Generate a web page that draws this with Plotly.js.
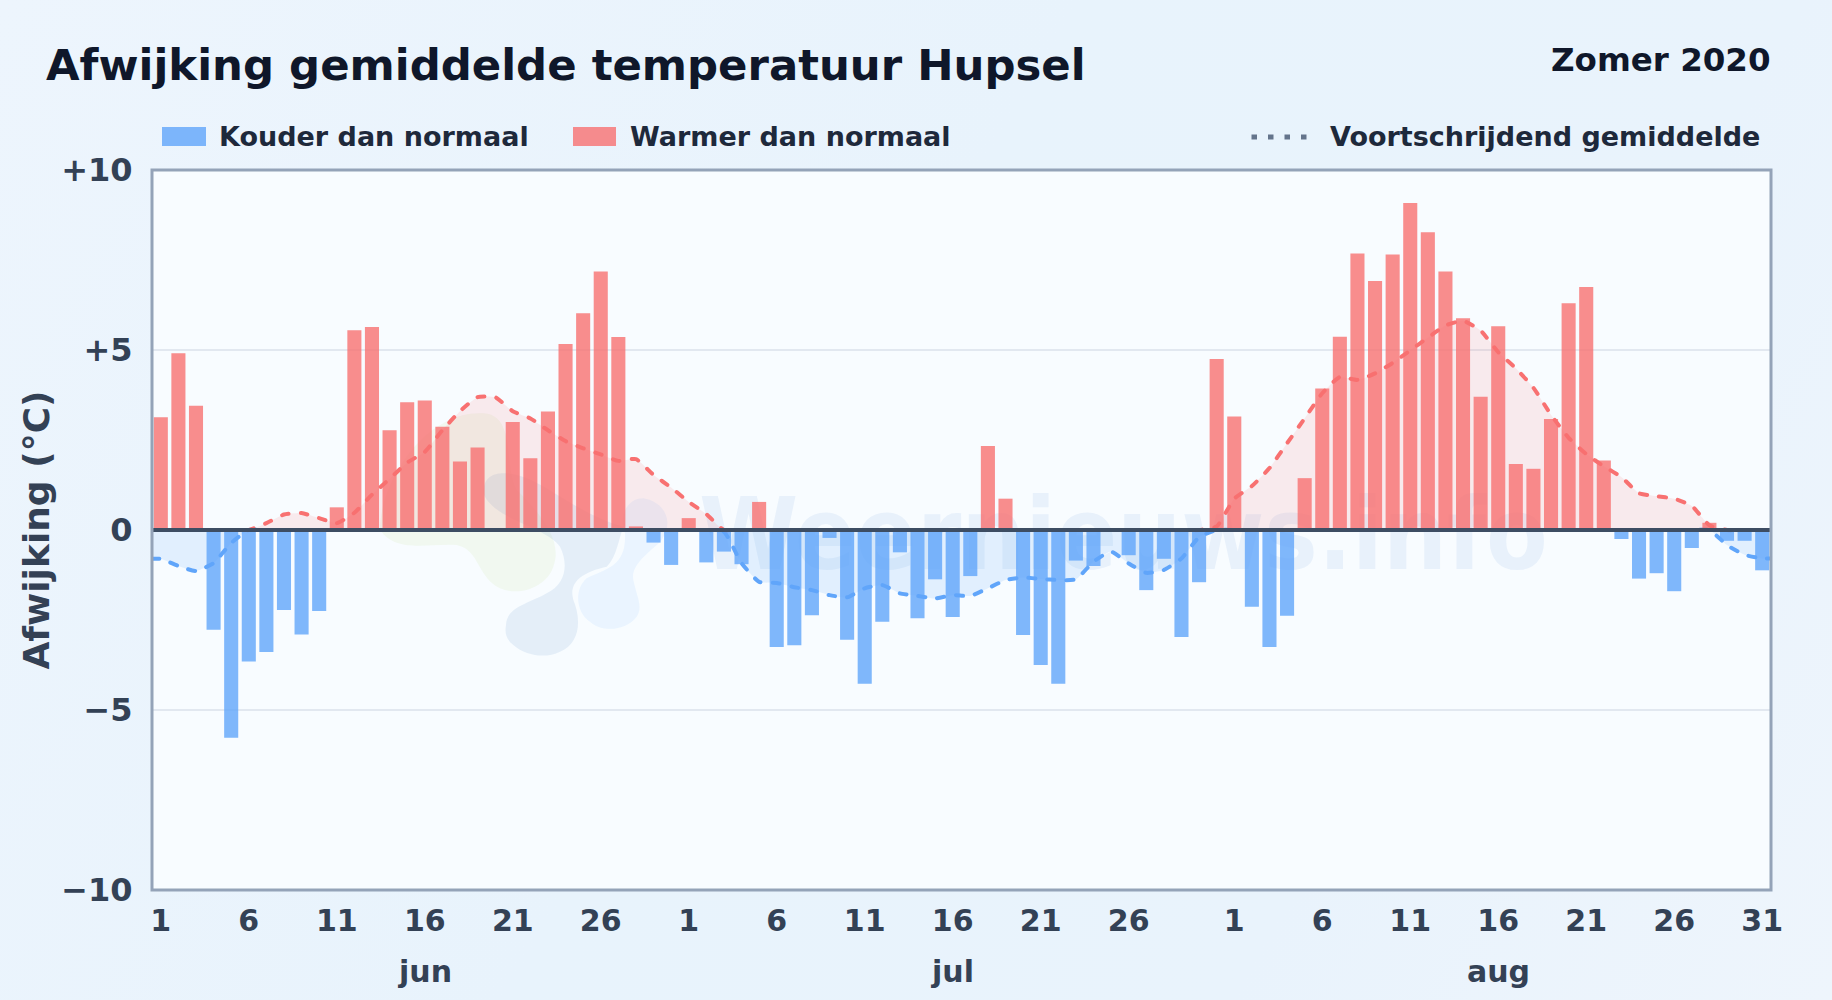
<!DOCTYPE html>
<html>
<head>
<meta charset="utf-8">
<script src="https://cdn.plot.ly/plotly-3.0.1.min.js"></script>
<style>
html,body{margin:0;padding:0;width:1832px;height:1000px;overflow:hidden;
background:linear-gradient(120deg,#edf5fd 0%,#e8f3fc 45%,#e9f3fc 75%,#eef5fc 100%);}
#chart{width:1832px;height:1000px;}
.js-line{stroke-linecap:round;}
</style>
</head>
<body>
<div id="chart"></div>
<script>
const days = [
'1 jun','2 jun','3 jun','4 jun','5 jun','6 jun','7 jun','8 jun','9 jun','10 jun','11 jun','12 jun','13 jun','14 jun','15 jun','16 jun','17 jun','18 jun','19 jun','20 jun','21 jun','22 jun','23 jun','24 jun','25 jun','26 jun','27 jun','28 jun','29 jun','30 jun',
'1 jul','2 jul','3 jul','4 jul','5 jul','6 jul','7 jul','8 jul','9 jul','10 jul','11 jul','12 jul','13 jul','14 jul','15 jul','16 jul','17 jul','18 jul','19 jul','20 jul','21 jul','22 jul','23 jul','24 jul','25 jul','26 jul','27 jul','28 jul','29 jul','30 jul','31 jul',
'1 aug','2 aug','3 aug','4 aug','5 aug','6 aug','7 aug','8 aug','9 aug','10 aug','11 aug','12 aug','13 aug','14 aug','15 aug','16 aug','17 aug','18 aug','19 aug','20 aug','21 aug','22 aug','23 aug','24 aug','25 aug','26 aug','27 aug','28 aug','29 aug','30 aug','31 aug'];

const deviation = [
3.13,4.91,3.45,-2.77,-5.77,-3.65,-3.39,-2.22,-2.9,-2.25,0.63,5.55,5.64,2.77,3.55,3.6,2.87,1.9,2.29,0.05,3.0,1.99,3.29,5.17,6.02,7.18,5.36,0.1,-0.35,-0.97,
0.33,-0.9,-0.6,-0.95,0.78,-3.25,-3.2,-2.37,-0.22,-3.05,-4.27,-2.55,-0.62,-2.45,-1.37,-2.42,-1.28,2.33,0.87,-2.92,-3.75,-4.27,-0.85,-1.0,0,-0.7,-1.67,-0.8,-2.97,-1.45,4.75,
3.15,-2.13,-3.25,-2.38,1.44,3.93,5.37,7.68,6.92,7.65,9.08,8.27,7.18,5.88,3.7,5.66,1.83,1.7,3.08,6.3,6.75,1.93,-0.25,-1.35,-1.2,-1.7,-0.5,0.2,-0.3,-0.3,-1.12];

const movingAvg = [
-0.8,-1.0,-1.14,-0.92,-0.36,0.0,0.19,0.43,0.47,0.33,0.19,0.48,0.98,1.42,1.87,2.17,2.77,3.3,3.69,3.69,3.3,3.1,2.77,2.47,2.27,2.1,1.92,1.97,1.53,1.18,
0.78,0.44,-0.05,-0.92,-1.44,-1.47,-1.59,-1.67,-1.81,-1.87,-1.62,-1.53,-1.76,-1.83,-1.9,-1.81,-1.83,-1.62,-1.39,-1.32,-1.36,-1.39,-1.37,-0.88,-0.6,-0.93,-1.19,-1.11,-0.79,-0.2,0.1,
0.87,1.22,1.72,2.41,3.1,3.8,4.25,4.17,4.35,4.64,4.99,5.34,5.68,5.81,5.54,4.94,4.49,3.95,3.2,2.56,2.11,1.77,1.47,1.02,0.94,0.87,0.67,0.13,-0.42,-0.69,-0.79];

const xTickDays = ['1 jun','6 jun','11 jun','16 jun','21 jun','26 jun','1 jul','6 jul','11 jul','16 jul','21 jul','26 jul','1 aug','6 aug','11 aug','16 aug','21 aug','26 aug','31 aug'];
const xTickText = ['1','6','11','16','21','26','1','6','11','16','21','26','1','6','11','16','21','26','31'];
const yTickVals = [-10,-5,0,5,10];
const yTickText = ['\u221210','\u22125','0','+5','+10'];
const monthLabels = ['jun','jul','aug'];
const monthCenters = ['16 jun','16 jul','16 aug'];
const legendCold = 'Kouder dan normaal';
const legendWarm = 'Warmer dan normaal';
const legendAvg = 'Voortschrijdend gemiddelde';

const FONT = '"DejaVu Sans", sans-serif';
const W = 1832, H = 1000;
const L = 152, R = 1771, T = 170, B = 890;
const XMIN = -0.5, XMAX = 91.5;
const px = x => (x - L) / (R - L);
const py = y => (B - y) / (B - T);
const dayIndex = d => days.indexOf(d);
const dayPos = days.map((d, i) => i);

// the average line runs on to the frame on both sides, holding its end values
const avgX = [XMIN].concat(dayPos, [XMAX]);
const avgY = [movingAvg[0]].concat(movingAvg, [movingAvg[movingAvg.length - 1]]);
const warmAvg = avgY.map(v => Math.max(v, 0));
const coldAvg = avgY.map(v => Math.min(v, 0));

const blue = '#60a5fa', red = '#f87171';
const colors = deviation.map(v => v < 0 ? 'rgba(96,165,250,0.8)' : 'rgba(248,113,113,0.8)');

const traces = [
  {type:'scatter', mode:'lines', x:avgX, y:coldAvg, xaxis:'x', yaxis:'y', fill:'tozeroy',
   fillcolor:'rgba(96,165,250,0.15)', line:{color:blue, width:4, dash:'7px,12px', shape:'spline', smoothing:0.5}, showlegend:false, hoverinfo:'skip'},
  {type:'scatter', mode:'lines', x:avgX, y:warmAvg, xaxis:'x', yaxis:'y', fill:'tozeroy',
   fillcolor:'rgba(248,113,113,0.13)', line:{color:red, width:4, dash:'7px,12px', shape:'spline', smoothing:0.5}, showlegend:false, hoverinfo:'skip'},
  {type:'bar', x:dayPos, y:deviation, customdata:days, xaxis:'x2', yaxis:'y2', marker:{color:colors, line:{width:0}}, width:0.8, showlegend:false}
];

// logo blobs, written in pixels of a 3x crop whose origin is (360,380)
function blob(pts){
  const c = (x,y)=> px(360+x/3)+','+py(380+y/3);
  let d = 'M'+c(pts[0][0],pts[0][1]);
  for(let i=1;i+2<pts.length;i+=3){
    d += ' C'+c(pts[i][0],pts[i][1])+' '+c(pts[i+1][0],pts[i+1][1])+' '+c(pts[i+2][0],pts[i+2][1]);
  }
  return d+' Z';
}
const blobShape = (pts,col)=>({type:'path',xref:'paper',yref:'paper',layer:'below',path:blob(pts),fillcolor:col,line:{width:0}});

const shapes = [
  blobShape([[60,450],[60,300],[200,90],[370,100],[470,105],[430,260],[470,330],[540,400],[610,480],[580,560],[560,620],[480,650],[420,625],[350,590],[360,510],[290,495],[200,490],[110,520],[60,450]],'rgba(200,225,150,0.14)'),
  blobShape([[438,735],[440,680],[510,670],[560,640],[620,610],[625,550],[600,500],[560,440],[400,420],[370,340],[370,290],[400,278],[440,280],[540,285],[640,400],[790,440],[775,480],[770,530],[740,560],[700,570],[620,590],[640,660],[665,720],[660,790],[600,815],[560,835],[500,830],[460,795],[435,775],[435,755],[438,735]],'rgba(130,170,215,0.17)'),
  blobShape([[795,460],[775,410],[800,355],[850,355],[910,365],[945,420],[905,480],[880,510],[810,550],[820,600],[830,650],[850,680],[830,710],[800,750],[730,760],[690,725],[650,700],[640,630],[680,595],[740,565],[800,560],[795,460]],'rgba(147,197,253,0.14)'),
  {type:'rect',xref:'paper',yref:'paper',layer:'below',x0:px(690),x1:px(1557),y0:py(475),y1:py(580),line:{width:0},fillcolor:'rgba(0,0,0,0)',
   label:{text:'Weernieuws.info',textposition:'middle center',font:{family:'"DejaVu Sans Condensed","DejaVu Sans"',size:100,color:'rgba(96,150,215,0.1)',weight:'bold'}}},
  // zero line
  {type:'line',xref:'paper',yref:'y',layer:'above',x0:0,x1:1,y0:0,y1:0,line:{color:'#3d4d63',width:4}},
  // plot frame
  {type:'rect',xref:'paper',yref:'paper',layer:'above',x0:0,x1:1,y0:0,y1:1,fillcolor:'rgba(0,0,0,0)',line:{color:'#94a3b8',width:3}},
  // legend swatches
  {type:'rect',xref:'paper',yref:'paper',layer:'above',x0:px(162),x1:px(206),y0:py(127),y1:py(146),fillcolor:'rgba(96,165,250,0.8)',line:{width:0}},
  {type:'rect',xref:'paper',yref:'paper',layer:'above',x0:px(573),x1:px(616),y0:py(127),y1:py(146),fillcolor:'rgba(248,113,113,0.8)',line:{width:0}},
  {type:'line',xref:'paper',yref:'paper',layer:'above',x0:px(1251.5),x1:px(1308),y0:py(137),y1:py(137),line:{color:'#64748b',width:5,dash:'5.5px,11px'}}
];

const ann = (text,x,y,xanchor,size,color,extra)=>Object.assign({xref:'paper',yref:'paper',x:px(x),y:py(y),text,showarrow:false,xanchor,yanchor:'middle',
  font:{family:FONT,size,color,weight:'bold'}},extra||{});

const annotations = [
  ann('Zomer 2020',1773,60,'right',32.5,'#0f172a'),
  ann(legendCold,216.5,137,'left',27,'#1e293b'),
  ann(legendWarm,627.5,137,'left',27,'#1e293b'),
  ann(legendAvg,1328,137,'left',27,'#1e293b')
].concat(monthLabels.map((m,i)=>({xref:'x',yref:'paper',x:dayIndex(monthCenters[i]),y:py(971),text:m,showarrow:false,xanchor:'center',yanchor:'middle',
  font:{family:FONT,size:30,color:'#334155',weight:'bold'}})));

const xBase = {type:'linear',range:[XMIN,XMAX],fixedrange:true};
const yBase = {range:[-10,10],fixedrange:true};

const layout = {
  width:W,height:H,autosize:false,
  margin:{l:L,r:W-R,t:T,b:H-B,pad:0},
  paper_bgcolor:'rgba(0,0,0,0)',
  plot_bgcolor:'#f8fcff',
  font:{family:FONT},
  hovermode:false,
  title:{text:'Afwijking gemiddelde temperatuur Hupsel',xref:'container',yref:'container',x:46/W,y:1-65/H,xanchor:'left',yanchor:'middle',
    font:{family:FONT,size:43.4,color:'#0f172a',weight:'bold'}},
  xaxis:Object.assign({},xBase,{tickmode:'array',tickvals:xTickDays.map(dayIndex),ticktext:xTickText,showgrid:false,zeroline:false,
    ticks:'outside',ticklen:4,tickcolor:'rgba(0,0,0,0)',tickfont:{family:FONT,size:30,color:'#334155',weight:'bold'},
    showline:false}),
  yaxis:Object.assign({},yBase,{tickmode:'array',tickvals:yTickVals,ticktext:yTickText,showgrid:true,gridcolor:'#e2e8f0',gridwidth:2,zeroline:false,
    ticks:'outside',ticklen:12,tickcolor:'rgba(0,0,0,0)',tickfont:{family:FONT,size:32,color:'#334155',weight:'bold'},
    showline:false,
    title:{text:'Afwijking (\u00b0C)',standoff:0,font:{family:FONT,size:36,color:'#334155',weight:'bold'}}}),
  xaxis2:Object.assign({},xBase,{overlaying:'x',anchor:'y2',visible:false}),
  yaxis2:Object.assign({},yBase,{overlaying:'y',anchor:'x2',visible:false}),
  shapes,annotations
};
Plotly.newPlot('chart',traces,layout,{displayModeBar:false,staticPlot:true});
</script>
</body>
</html>
